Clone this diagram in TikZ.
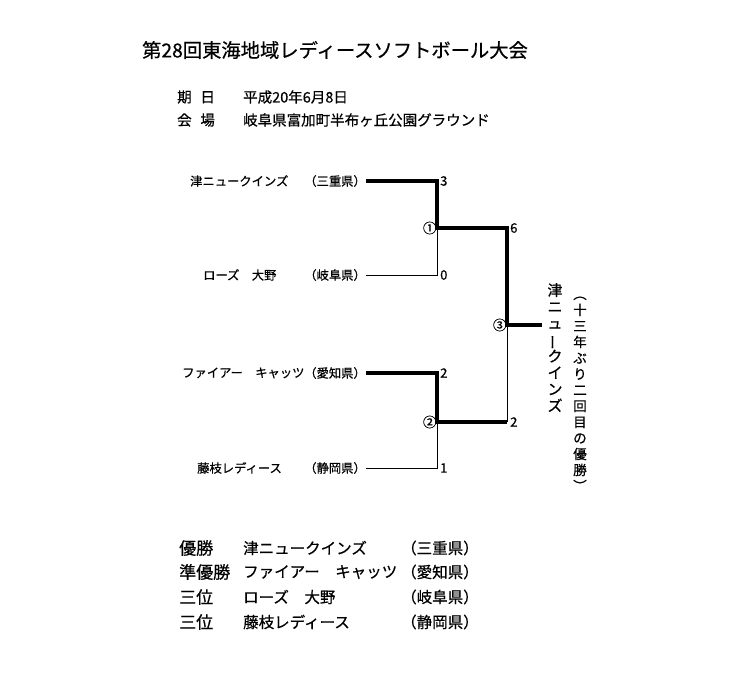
\documentclass[tikz,border=0pt]{standalone}
\usepackage{fontspec}
\setmainfont{Noto Sans CJK JP}[FakeBold=0.6]

\begin{document}
\begin{tikzpicture}[x=1pt, y=-1pt,
	team/.style={anchor=west, inner sep=0pt, font=\fontsize{12.3}{12.3}\selectfont},
	pref/.style={anchor=east, inner sep=0pt, font=\fontsize{12.3}{12.3}\selectfont},
	score/.style={anchor=west, inner sep=0pt, font=\fontsize{13}{13}\selectfont},
	gamenum/.style={anchor=east, inner sep=0.3pt, font=\fontsize{13.5}{13.5}\selectfont},
	info/.style={anchor=west, inner sep=0pt, font=\fontsize{14.5}{14.5}\selectfont},
	result/.style={anchor=west, inner sep=0pt, font=\fontsize{15.5}{15.5}\selectfont},
	rank/.style={anchor=west, inner sep=0pt, font=\fontsize{17}{17}\selectfont},
	win/.style={line width=4pt},
	lose/.style={line width=1pt}]
	
	\useasboundingbox (0,0) rectangle (750,680);
	
	\node[inner sep=0pt, font=\fontsize{19.3}{19.3}\selectfont] (title) at (335, 50) {第28回東海地域レディースソフトボール大会};
	
	\node[info] (datekey) at (177, 97)  {期\hspace{0.6em}日};
	\node[info] (date)    at (243, 97)  {平成20年6月8日};
	\node[info] (placekey) at (177, 120) {会\hspace{0.6em}場};
	\node[info] (place)   at (243, 120) {岐阜県富加町半布ヶ丘公園グラウンド};
	
	% teams
	\node[team] (t1) at (190, 181) {津ニュークインズ};
	\node[pref] (p1) at (366, 181) {（三重県）};
	\node[team] (t2) at (203, 275) {ローズ　大野};
	\node[pref] (p2) at (366, 275) {（岐阜県）};
	\node[team] (t3) at (182, 373) {ファイアー　キャッツ};
	\node[pref] (p3) at (366, 373) {（愛知県）};
	\node[team] (t4) at (197, 468) {藤枝レディース};
	\node[pref] (p4) at (366, 468) {（静岡県）};
	
	\coordinate (j1) at (437, 181);
	\coordinate (j2) at (437, 275);
	\coordinate (j3) at (437, 373);
	\coordinate (j4) at (437, 468);
	\coordinate (m1) at (437, 228);
	\coordinate (m2) at (437, 422);
	\coordinate (k1) at (507, 228);
	\coordinate (k2) at (507, 422);
	\coordinate (f)  at (507, 325);
	\coordinate (w)  at (542, 325);
	
	\node[score] (s1) at (440, 181) {3};
	\node[score] (s2) at (440, 275) {0};
	\node[score] (s3) at (440, 373) {2};
	\node[score] (s4) at (440, 468) {1};
	\node[score] (s5) at (510, 228) {6};
	\node[score] (s6) at (510, 422) {2};
	
	\node[gamenum] (g1) at (m1) {①};
	\node[gamenum] (g2) at (m2) {②};
	\node[gamenum] (g3) at (f)  {③};
	
	\draw[win]  (p1.east) -- (j1) -- (m1) -- (k1) -- (f) -- (w);
	\draw[win]  (p3.east) -- (j3) -- (m2) -- (k2);
	\draw[lose] (p2.east) -- (j2) -- (m1);
	\draw[lose] (p4.east) -- (j4) -- (m2);
	\draw[lose] (f) -- (k2);
	
	% winner, written downwards
	\node[anchor=north, inner sep=0pt, align=center, font=\fontsize{15}{16.5}\selectfont] (champ) at (555, 283)
		{津\\ニ\\ュ\\\rotatebox[origin=c]{90}{ー}\\ク\\イ\\ン\\ズ};
	\node[anchor=north, inner sep=0pt, align=center, font=\fontsize{13.5}{16}\selectfont] (note) at (580, 287)
		{\rotatebox[origin=c]{-90}{（}\\十\\三\\年\\ぶ\\り\\二\\回\\目\\の\\優\\勝\\\rotatebox[origin=c]{-90}{）}};
	
	% final standing
	\node[rank]   (r1a) at (179, 548) {優勝};
	\node[result] (r1b) at (243, 548) {津ニュークインズ};
	\node[result] (r1c) at (401, 548) {（三重県）};
	\node[rank]   (r2a) at (179, 572) {準優勝};
	\node[result] (r2b) at (243, 572) {ファイアー　キャッツ};
	\node[result] (r2c) at (401, 572) {（愛知県）};
	\node[rank]   (r3a) at (179, 597) {三位};
	\node[result] (r3b) at (243, 597) {ローズ　大野};
	\node[result] (r3c) at (401, 597) {（岐阜県）};
	\node[rank]   (r4a) at (179, 622) {三位};
	\node[result] (r4b) at (243, 622) {藤枝レディース};
	\node[result] (r4c) at (401, 622) {（静岡県）};
	
\end{tikzpicture}
\end{document}
